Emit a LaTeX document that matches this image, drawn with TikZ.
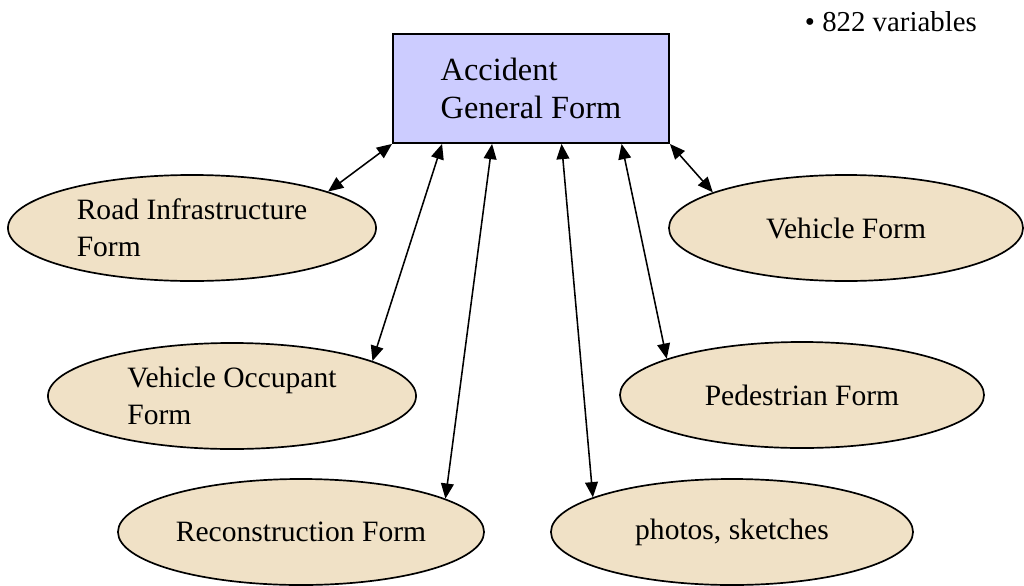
\documentclass[tikz,border=0pt]{standalone}
\usepackage{fontspec}
\setmainfont{Liberation Serif}
\usetikzlibrary{arrows.meta,calc,shapes.geometric}
\definecolor{boxblue}{HTML}{CCCCFF}
\definecolor{formtan}{HTML}{F0E1C6}
\tikzset{
  formnode/.style={draw, ellipse, fill=formtan, line width=1.2pt, minimum height=2.65cm, inner sep=0pt, align=left, font=\fontsize{21}{26.3}\selectfont},
  link/.style={{Triangle[length=0.38cm,width=0.32cm]}-{Triangle[length=0.38cm,width=0.32cm]}, line width=1.1pt}
}
\begin{document}
\begin{tikzpicture}[x=0.025cm, y=-0.025cm]
\useasboundingbox (0,0) rectangle (1024,585);
\node[draw, rectangle, fill=boxblue, line width=1.3pt, minimum width=6.9cm, minimum height=2.725cm, align=left, font=\fontsize{23}{27}\selectfont] (general) at (531,88.5) {Accident\\General Form};
\node[anchor=west, font=\fontsize{20.5}{24}\selectfont] (vars) at (800,22) {\textbullet\ 822 variables};
\node[formnode, minimum width=9.2cm] (road) at (192,228) {Road Infrastructure\\Form};
\node[formnode, minimum width=8.85cm] (vehicle) at (846,228) {Vehicle Form};
\node[formnode, minimum width=9.2cm] (occupant) at (232,396) {Vehicle Occupant\\Form};
\node[formnode, minimum width=9.1cm] (pedestrian) at (802,395) {Pedestrian Form};
\node[formnode, minimum width=9.15cm] (recon) at (301,532) {Reconstruction Form};
\node[formnode, minimum width=9.05cm] (photos) at (732,532) {photos, sketches};
% links from the general form
\draw[link] (general.south west) -- (road.15);
\draw[link] ($(general.south west)!0.18!(general.south east)$) -- (occupant.14);
\draw[link] ($(general.south west)!0.36!(general.south east)$) -- (recon.13);
\draw[link] ($(general.south west)!0.61!(general.south east)$) -- (photos.166);
\draw[link] ($(general.south west)!0.826!(general.south east)$) -- (pedestrian.165);
\draw[link] (general.south east) -- (vehicle.165);
\end{tikzpicture}
\end{document}
